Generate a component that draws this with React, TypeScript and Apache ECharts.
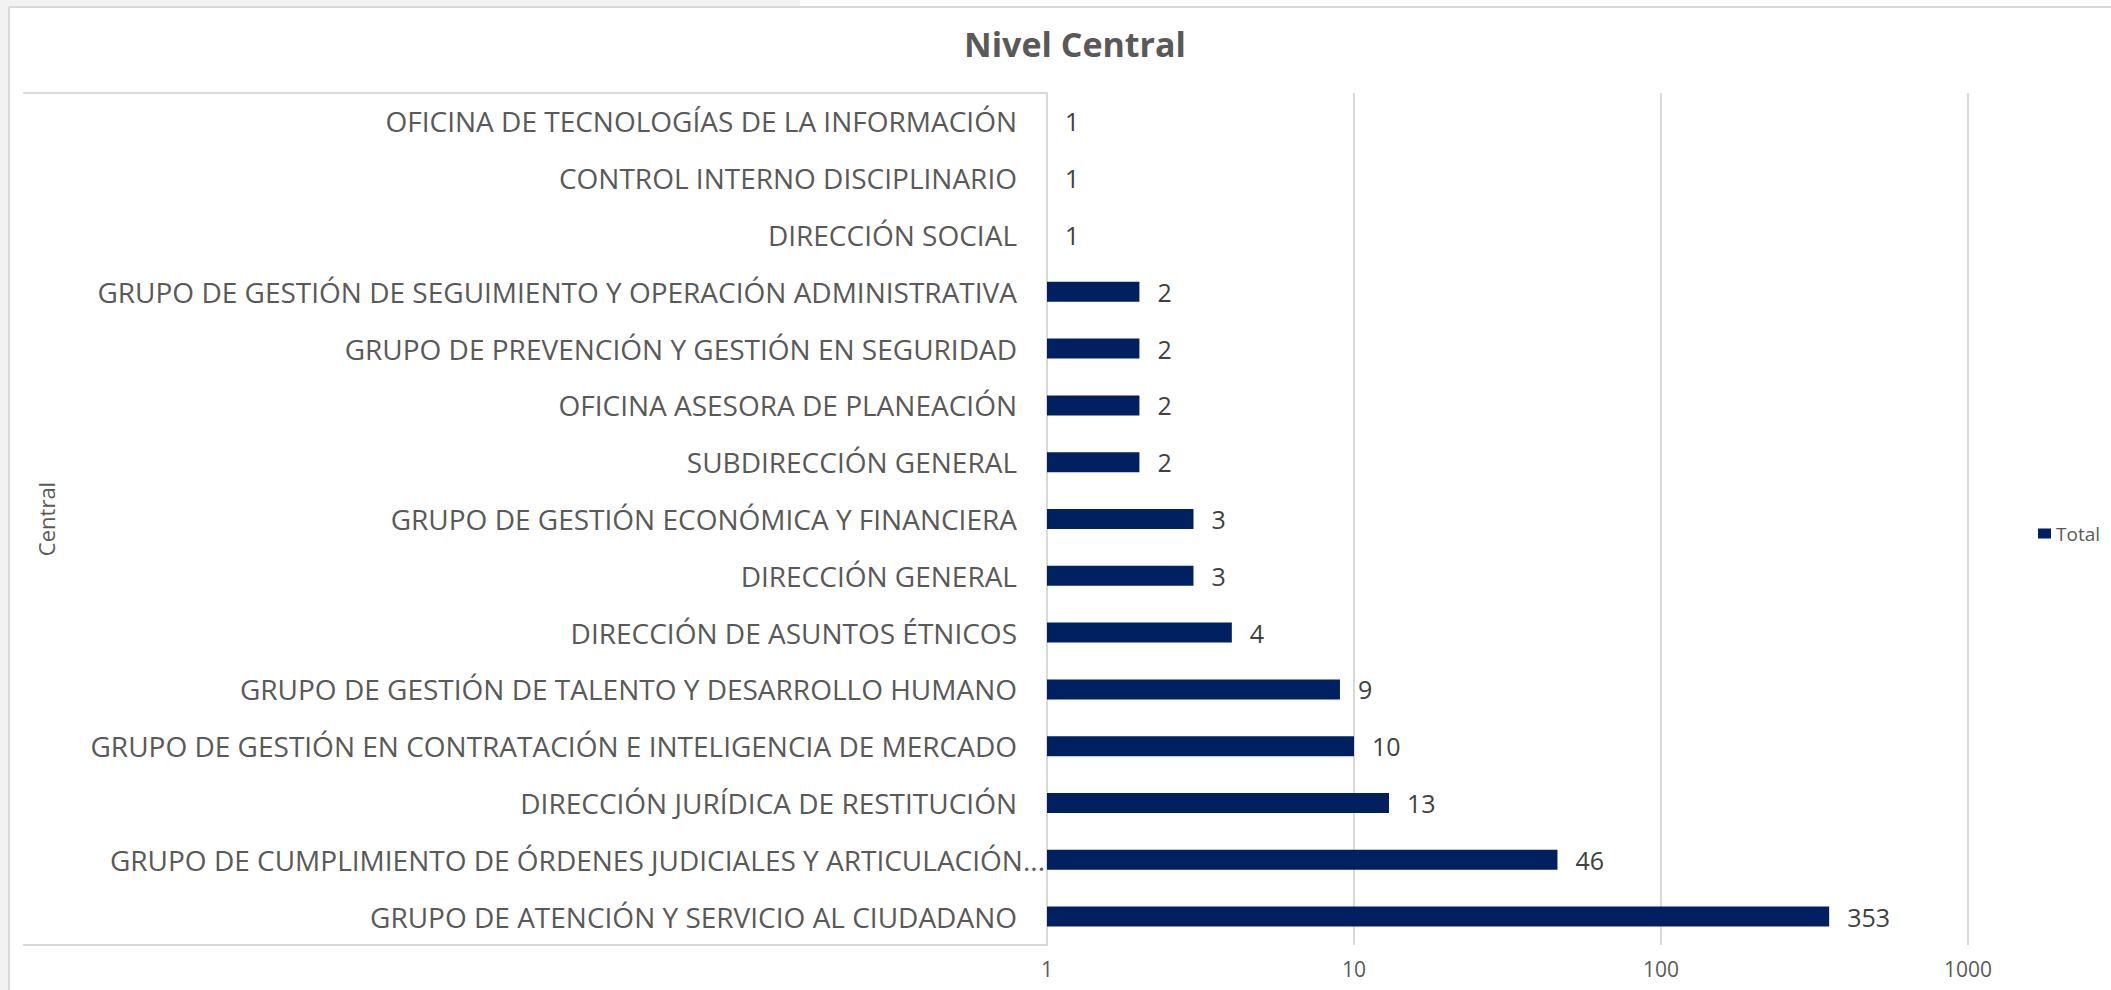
import React, { useEffect, useRef } from "react";
import * as echarts from "echarts";

const titleText = "Nivel Central";
const groupLabel = "Central";
const seriesName = "Total";

const categories = [
  "OFICINA DE TECNOLOGÍAS DE LA INFORMACIÓN",
  "CONTROL INTERNO DISCIPLINARIO",
  "DIRECCIÓN SOCIAL",
  "GRUPO DE GESTIÓN DE SEGUIMIENTO Y OPERACIÓN ADMINISTRATIVA",
  "GRUPO DE PREVENCIÓN Y GESTIÓN EN SEGURIDAD",
  "OFICINA ASESORA DE PLANEACIÓN",
  "SUBDIRECCIÓN GENERAL",
  "GRUPO DE GESTIÓN ECONÓMICA Y FINANCIERA",
  "DIRECCIÓN GENERAL",
  "DIRECCIÓN DE ASUNTOS ÉTNICOS",
  "GRUPO DE GESTIÓN DE TALENTO Y DESARROLLO HUMANO",
  "GRUPO DE GESTIÓN EN CONTRATACIÓN E INTELIGENCIA DE MERCADO",
  "DIRECCIÓN JURÍDICA DE RESTITUCIÓN",
  "GRUPO DE CUMPLIMIENTO DE ÓRDENES JUDICIALES Y ARTICULACIÓN...",
  "GRUPO DE ATENCIÓN Y SERVICIO AL CIUDADANO",
];

const totals = [1, 1, 1, 2, 2, 2, 2, 3, 3, 4, 9, 10, 13, 46, 353];

const axisMin = 1;
const axisMax = 1000;

const FONT = "'Open Sans', 'Noto Sans', sans-serif";
const GRAY_TEXT = "#595959";
const LINE = "#d9d9d9";
const BAR = "#002060";

export default function App() {
  const ref = useRef<HTMLDivElement>(null);

  useEffect(() => {
    if (!ref.current) return;
    const chart = echarts.init(ref.current, null, { renderer: "svg" });
    const W = 2111;
    const H = 990;
    const gridLeft = 1047;
    const gridRight = 1968;
    const gridTop = 93;
    const gridBottom = 945;

    // Truncated labels (ending with "...") sit closer to the axis, as in the original.
    const yData = categories.map((c) =>
      c.endsWith("...")
        ? { value: c, textStyle: { padding: [0, -28, 0, 0] } }
        : c
    );

    chart.setOption({
      animation: false,
      backgroundColor: "#ffffff",
      textStyle: { fontFamily: FONT },
      title: {
        text: titleText,
        left: 1070,
        top: 22,
        textAlign: "center",
        textStyle: {
          fontFamily: FONT,
          fontSize: 34,
          fontWeight: "bold",
          color: GRAY_TEXT,
        },
      },
      legend: {
        data: [seriesName],
        left: 2033,
        top: 519,
        itemWidth: 13,
        itemHeight: 10,
        itemGap: 6,
        icon: "rect",
        textStyle: { fontFamily: FONT, fontSize: 19, color: GRAY_TEXT },
      },
      grid: {
        left: gridLeft,
        right: W - gridRight,
        top: gridTop,
        bottom: H - gridBottom,
        containLabel: false,
        outerBoundsMode: "none",
      },
      xAxis: {
        type: "log",
        logBase: 10,
        min: axisMin,
        max: axisMax,
        axisLine: { show: false },
        axisTick: { show: false },
        splitLine: { show: true, lineStyle: { color: LINE, width: 2 } },
        axisLabel: {
          fontFamily: FONT,
          fontSize: 21,
          color: GRAY_TEXT,
          margin: 13,
          formatter: (v: number) => String(Math.round(v)),
        },
      },
      yAxis: {
        type: "category",
        inverse: true,
        data: yData,
        axisLine: { show: true, lineStyle: { color: LINE, width: 2 } },
        axisTick: { show: false },
        splitLine: { show: false },
        axisLabel: {
          fontFamily: FONT,
          fontSize: 28,
          color: GRAY_TEXT,
          margin: 30,
          interval: 0,
        },
      },
      series: [
        {
          name: seriesName,
          type: "bar",
          data: totals,
          barWidth: 20,
          itemStyle: { color: BAR },
          label: {
            show: true,
            position: "right",
            distance: 18,
            fontFamily: FONT,
            fontSize: 25,
            color: "#404040",
          },
        },
      ],
      graphic: [
        { type: "rect", shape: { x: 0, y: 0, width: 800, height: 7 }, style: { fill: "#f2f2f2" }, silent: true },
        { type: "rect", shape: { x: 0, y: 0, width: 9, height: H }, style: { fill: "#f2f2f2" }, silent: true },
        { type: "line", shape: { x1: 9, y1: 7, x2: W, y2: 7 }, style: { stroke: LINE, lineWidth: 2 }, silent: true },
        { type: "line", shape: { x1: 9, y1: 7, x2: 9, y2: H }, style: { stroke: LINE, lineWidth: 2 }, silent: true },
        { type: "line", shape: { x1: 23, y1: gridTop, x2: gridLeft, y2: gridTop }, style: { stroke: LINE, lineWidth: 2 }, silent: true },
        { type: "line", shape: { x1: 23, y1: gridBottom, x2: gridLeft, y2: gridBottom }, style: { stroke: LINE, lineWidth: 2 }, silent: true },
        {
          type: "text",
          x: 46,
          y: (gridTop + gridBottom) / 2,
          rotation: Math.PI / 2,
          style: {
            text: groupLabel,
            fontFamily: FONT,
            fontSize: 22,
            fill: GRAY_TEXT,
            align: "center",
            verticalAlign: "middle",
          },
          silent: true,
        },
      ],
    });

    return () => chart.dispose();
  }, []);

  return (
    <div
      ref={ref}
      style={{ position: "absolute", left: 0, top: 0, width: 2111, height: 990, background: "#fff" }}
    />
  );
}
